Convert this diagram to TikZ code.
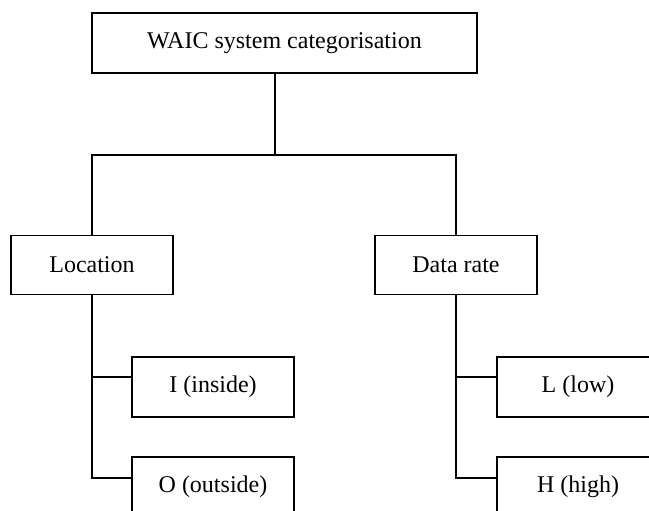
\documentclass[tikz,border=0pt]{standalone}
\usepackage{fontspec}
\setmainfont{Liberation Serif}
\usetikzlibrary{positioning}

\tikzset{
  catbox/.style={draw, line width=0.7pt, minimum width=81pt, minimum height=29.5pt,
    inner sep=0pt, font=\fontsize{12}{14}\selectfont},
  link/.style={line width=1.1pt},
  branch/.style={line width=1pt}
}

\begin{document}
\begin{tikzpicture}[x=0.5pt,y=-0.5pt]
	\useasboundingbox (0,0) rectangle (649,510);
	
	% top of the tree
	\node[catbox, minimum width=192.5pt, minimum height=30pt] (waic) at (284.5,43) {WAIC system categorisation};
	\coordinate (split) at (275,155);
	
	% categories
	\node[catbox] (loc) at (92,265) {Location};
	\node[catbox] (rate) at (456,265) {Data rate};
	
	% classes
	\node[catbox, minimum height=30pt] (inside) at (213,387) {I (inside)};
	\node[catbox, minimum height=30pt] (outside) at (213,487) {O (outside)};
	\node[catbox, minimum height=30pt] (low) at (578,387) {L (low)};
	\node[catbox, minimum height=30pt] (high) at (578,487) {H (high)};
	
	\coordinate (intap) at ([yshift=5pt]inside.west);
	\coordinate (outtap) at ([yshift=4.5pt]outside.west);
	\coordinate (lowtap) at ([yshift=5pt]low.west);
	\coordinate (hightap) at ([yshift=4.5pt]high.west);
	
	\draw[link] (waic.south -| split) -- (split);
	\draw[link] (loc.north) |- (split) -| (rate.north);
	
	\draw[link] (loc.south) |- (outtap);
	\draw[branch] (intap) -- (intap -| loc.south);
	
	\draw[link] (rate.south) |- (hightap);
	\draw[branch] (lowtap) -- (lowtap -| rate.south);
\end{tikzpicture}
\end{document}
